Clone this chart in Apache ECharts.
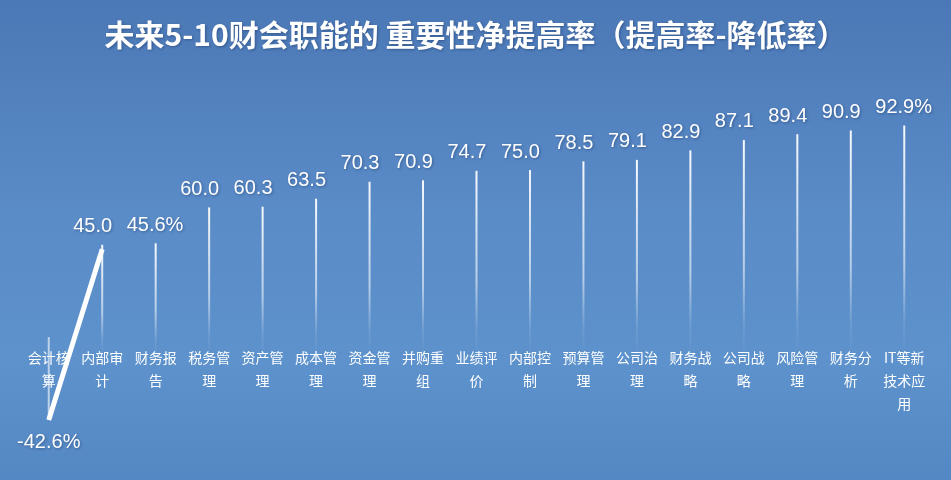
<!DOCTYPE html>
<html><head><meta charset="utf-8">
<script src="https://cdn.jsdelivr.net/npm/echarts@6/dist/echarts.min.js"></script>
<style>html,body{margin:0;padding:0;}#c{width:951px;height:480px;}</style>
</head><body><div id="c"></div>
<script>
const titleText = '未来5-10财会职能的 重要性净提高率（提高率-降低率）';
const categories = ['会计核算','内部审计','财务报告','税务管理','资产管理','成本管理','资金管理','并购重组','业绩评价','内部控制','预算管理','公司治理','财务战略','公司战略','风险管理','财务分析','IT等新技术应用'];
const values = [-42.6, 45.0, 45.6, 60.0, 60.3, 63.5, 70.3, 70.9, 74.7, 75.0, 78.5, 79.1, 82.9, 87.1, 89.4, 90.9, 92.9];
const fullLabelIdx = [2, 16];

function wrap(s){
  const lines=[];let cur='',w=0;
  for(const ch of s){
    const cw = /[\x00-\x7f]/.test(ch)?0.5:1;
    if(w+cw>3.01){lines.push(cur);cur='';w=0;}
    cur+=ch;w+=cw;
  }
  if(cur)lines.push(cur);
  return lines.join('\n');
}
const shadow = {textShadowColor:'rgba(30,60,110,0.6)',textShadowBlur:3,textShadowOffsetX:1,textShadowOffsetY:1};
const posData = values.map((v,i)=>{
  if(v<0) return '-';
  const o={value:v};
  if(fullLabelIdx.includes(i)) o.label={width:80};
  return o;
});
const negData = values.map(v=>v<0?v:'-');
const linkData = values.map((v,i)=>i<2?v:'-');

const chart = echarts.init(document.getElementById('c'));
chart.setOption({
  animation:false,
  backgroundColor:{type:'linear',x:0,y:0,x2:0,y2:1,colorStops:[
    {offset:0,color:'#4b78b6'},{offset:0.45,color:'#5a8cc8'},{offset:0.75,color:'#5d92cc'},{offset:1,color:'#5488c4'}]},
  title:{text:titleText,left:'center',top:15,textStyle:Object.assign({color:'#ffffff',fontSize:30,fontWeight:'bold',fontFamily:'Noto Sans CJK SC'},shadow)},
  grid:{left:22,right:20,top:58,bottom:23.5,containLabel:false,outerBoundsMode:'none'},
  xAxis:{type:'category',data:categories,position:'bottom',offset:-119.5,
    axisLine:{show:false,onZero:false},
    axisTick:{show:false},
    axisLabel:{interval:0,margin:9,color:'#ffffff',fontSize:14,lineHeight:23,fontFamily:'Noto Sans CJK SC',formatter:wrap}},
  yAxis:[
    {type:'value',min:-40,max:120,show:false,splitLine:{show:false}},
    {type:'value',min:-61.3,max:143.2,show:false,splitLine:{show:false}}
  ],
  series:[
    {type:'bar',yAxisIndex:0,data:posData,barWidth:2,
      itemStyle:{color:{type:'linear',x:0,y:0,x2:0,y2:1,colorStops:[{offset:0,color:'rgba(255,255,255,0.95)'},{offset:0.6,color:'rgba(255,255,255,0.55)'},{offset:0.85,color:'rgba(255,255,255,0.1)'},{offset:1,color:'rgba(255,255,255,0)'}]}},
      label:Object.assign({show:true,position:'top',distance:8,align:'left',offset:[-29,0],width:47,overflow:'truncate',ellipsis:'',
        color:'#ffffff',fontSize:20,fontFamily:'Liberation Sans',formatter:p=>p.value.toFixed(1)+'%'},shadow)},
    {type:'bar',yAxisIndex:1,data:negData,barWidth:2,barGap:'-100%',
      itemStyle:{color:'rgba(255,255,255,0.6)'},
      label:Object.assign({show:true,position:'bottom',distance:12,color:'#ffffff',fontSize:20,fontFamily:'Liberation Sans',formatter:p=>p.value.toFixed(1)+'%'},shadow)},
    {type:'line',yAxisIndex:1,data:linkData,symbol:'none',lineStyle:{color:'#ffffff',width:5},z:5}
  ]
});
</script></body></html>
